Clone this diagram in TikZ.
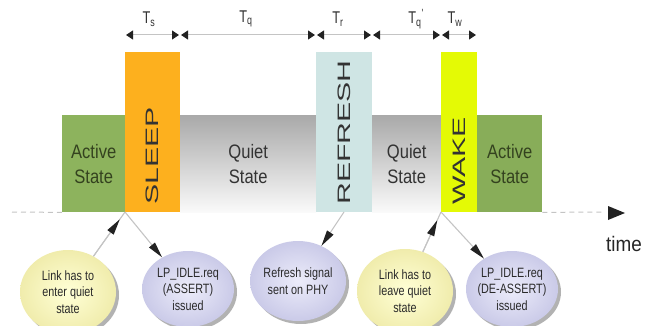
\documentclass[tikz,border=0pt]{standalone}
\usepackage{fontspec}
\usepackage{graphicx}
\usetikzlibrary{arrows.meta,shapes.geometric,shadows}
\newfontfamily\stfont[FakeStretch=0.85]{Liberation Sans}
\newfontfamily\smfont[FakeStretch=0.8]{Liberation Sans}
\newfontfamily\vtfont[FakeStretch=1.68]{Liberation Sans}
\newfontfamily\lbfont[FakeStretch=0.75]{Liberation Sans}
\newfontfamily\tmfont[FakeStretch=0.9]{Liberation Sans}
\definecolor{activec}{HTML}{8DB35D}
\definecolor{activec2}{HTML}{88AD59}
\definecolor{sleepc}{HTML}{FDB01E}
\definecolor{refreshc}{HTML}{CFE5E4}
\definecolor{wakec}{HTML}{E4FA05}
\definecolor{quiettop}{HTML}{A9A9A9}
\definecolor{quietbot}{HTML}{FAFAFA}
\definecolor{ylwin}{HTML}{FFFFD6}
\definecolor{ylwout}{HTML}{F0ECAC}
\definecolor{lavin}{HTML}{ECECFA}
\definecolor{lavout}{HTML}{CACAE8}
\definecolor{txtc}{HTML}{333333}
\definecolor{bubtxt}{HTML}{2A2A2A}
\definecolor{acttxt}{HTML}{34421F}
\definecolor{tipc}{HTML}{222222}
\definecolor{linec}{HTML}{C4C4C4}
\begin{document}
\begin{tikzpicture}[x=1pt,y=-1pt,
  statebox/.style={anchor=north west, inner sep=0pt, minimum height=97pt, align=center,
    font=\stfont\fontsize{19.5}{25}\selectfont},
  tallbox/.style={anchor=north west, inner sep=0pt, minimum height=160pt},
  vtext/.style={rotate=90, anchor=west, inner sep=0pt, text=txtc,
    font=\vtfont\fontsize{18}{18}\selectfont},
  bubble/.style={ellipse, inner xsep=-4pt, inner ysep=0pt, align=center, text=bubtxt,
    font=\smfont\fontsize{13.5}{16.5}\selectfont,
    drop shadow={shadow xshift=3pt, shadow yshift=-3pt, opacity=0.5, fill=black!60}},
  ybubble/.style={bubble, inner color=ylwin, outer color=ylwout, minimum width=96pt, minimum height=84pt},
  lbubble/.style={bubble, inner color=lavin, outer color=lavout, minimum width=92pt, minimum height=76pt},
  cline/.style={draw=linec, line width=1.1pt},
  uptip/.style={cline, -{Triangle[length=16pt,width=7.5pt,color=tipc]}, shorten >=9pt},
  downtip/.style={cline, -{Triangle[length=16pt,width=7.5pt,color=tipc]}},
  tspan/.style={draw=linec, line width=1pt, >={Triangle[length=7pt,width=9pt,color=tipc]}, <->,
    shorten <=1pt, shorten >=1pt},
  tlabel/.style={inner sep=0pt, text=txtc, font=\lbfont\fontsize{17}{17}\selectfont},
  axisline/.style={draw=linec, line width=1pt, dash pattern=on 5pt off 4pt}
]
\useasboundingbox (0,0) rectangle (648,326);

% state boxes
\node[statebox, fill=activec, minimum width=63pt, text=acttxt] (activeL) at (62,115) {Active\\State};
\node[tallbox, fill=sleepc, minimum width=55pt] (sleep) at (125,52) {};
\node[statebox, top color=quiettop, bottom color=quietbot, minimum width=136pt, text=txtc] (quiet1) at (180,115) {Quiet\\State};
\node[tallbox, fill=refreshc, minimum width=56pt] (refresh) at (316,52) {};
\node[statebox, top color=quiettop, bottom color=quietbot, minimum width=69pt, text=txtc] (quiet2) at (372,115) {Quiet\\State};
\node[tallbox, fill=wakec, minimum width=36pt] (wake) at (441,52) {};
\node[statebox, fill=activec2, minimum width=65pt, text=acttxt] (activeR) at (477,115) {Active\\State};

% vertical labels
\node[vtext] (sleept) at (152.5,205) {SLEEP};
\node[vtext] (refresht) at (344,205) {REFRESH};
\node[vtext] (waket) at (459,205) {WAKE};

% timing spans
\coordinate (b0) at (125,35);
\coordinate (b1) at (180,35);
\coordinate (b2) at (316,35);
\coordinate (b3) at (372,35);
\coordinate (b4) at (441,35);
\coordinate (b5) at (477,35);
\draw[tspan] (b0) -- (b1);
\draw[tspan] (b1) -- (b2);
\draw[tspan] (b2) -- (b3);
\draw[tspan] (b3) -- (b4);
\draw[tspan] (b4) -- (b5);
\node[tlabel] (ts) at (149,19) {T\textsubscript{s}};
\node[tlabel] (tq) at (246,19) {T\textsubscript{q}};
\node[tlabel] (tr) at (338,19) {T\textsubscript{r}};
\node[tlabel] (tq2) at (416,19) {T\textsubscript{q}\textsuperscript{'}};
\node[tlabel] (tw) at (455,19) {T\textsubscript{w}};

% time axis
\coordinate (ax0) at (12,212);
\coordinate (ax1) at (603,212);
\draw[axisline] (ax0) -- (activeL.south west);
\draw[axisline] (activeR.south east) -- (ax1);
\fill[tipc] (608,206) -- (625,213) -- (608,220) -- cycle;
\node[inner sep=0pt, text=black!85, font=\tmfont\fontsize{21}{21}\selectfont, anchor=west] (timel) at (606,244) {time};

% event points
\coordinate (e1) at (125,212);
\coordinate (e2) at (344,212);
\coordinate (e3) at (441,212);

% bubbles
\node[ybubble] (y1) at (68,292) {Link has to\\enter quiet\\state};
\node[lbubble] (l1) at (188,289) {LP\_IDLE.req\\(ASSERT)\\issued};
\node[lbubble, minimum width=96pt, minimum height=80pt] (l2) at (298,281) {Refresh signal\\sent on PHY};
\node[ybubble] (y2) at (405,291) {Link has to\\leave quiet\\state};
\node[lbubble] (l3) at (512,289) {LP\_IDLE.req\\(DE-ASSERT)\\issued};

% connectors
\draw[cline] (y1) -- (e1);
\draw[uptip] (y1) -- (e1);
\draw[downtip] (e1) -- (l1);
\draw[downtip] (e2) -- (l2);
\draw[cline] (y2) -- (e3);
\draw[uptip] (y2) -- (e3);
\draw[downtip] (e3) -- (l3);
\end{tikzpicture}
\end{document}
